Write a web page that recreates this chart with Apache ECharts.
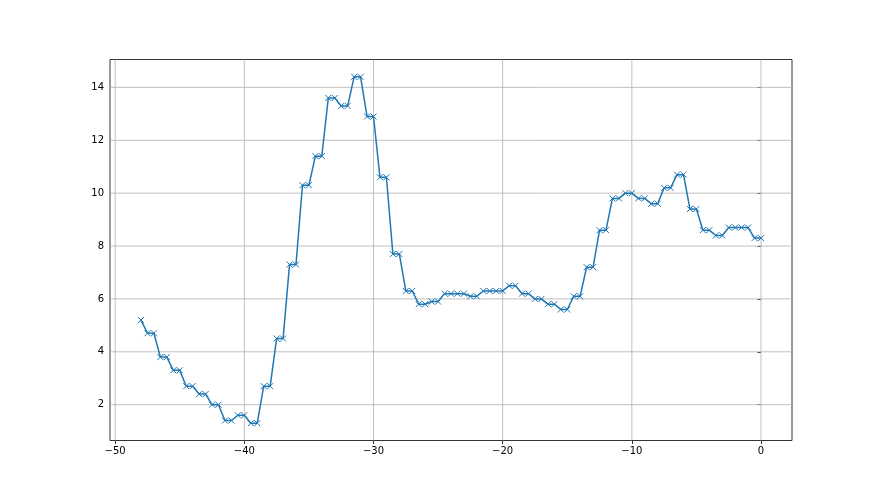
<!DOCTYPE html>
<html>
<head>
<meta charset="utf-8">
<style>
html,body{margin:0;padding:0;background:#fff;}
#chart{width:880px;height:495px;}
</style>
<script src="https://cdn.jsdelivr.net/npm/echarts@6/dist/echarts.min.js"></script>
</head>
<body>
<div id="chart"></div>
<script>
const xValues = [-48, -47.5, -47, -46.5, -46, -45.5, -45, -44.5, -44, -43.5, -43, -42.5, -42, -41.5, -41, -40.5, -40, -39.5, -39, -38.5, -38, -37.5, -37, -36.5, -36, -35.5, -35, -34.5, -34, -33.5, -33, -32.5, -32, -31.5, -31, -30.5, -30, -29.5, -29, -28.5, -28, -27.5, -27, -26.5, -26, -25.5, -25, -24.5, -24, -23.5, -23, -22.5, -22, -21.5, -21, -20.5, -20, -19.5, -19, -18.5, -18, -17.5, -17, -16.5, -16, -15.5, -15, -14.5, -14, -13.5, -13, -12.5, -12, -11.5, -11, -10.5, -10, -9.5, -9, -8.5, -8, -7.5, -7, -6.5, -6, -5.5, -5, -4.5, -4, -3.5, -3, -2.5, -2, -1.5, -1, -0.5, 0];
const yValues = [5.2, 4.7, 4.7, 3.8, 3.8, 3.3, 3.3, 2.7, 2.7, 2.4, 2.4, 2.0, 2.0, 1.4, 1.4, 1.6, 1.6, 1.3, 1.3, 2.7, 2.7, 4.5, 4.5, 7.3, 7.3, 10.3, 10.3, 11.4, 11.4, 13.6, 13.6, 13.3, 13.3, 14.4, 14.4, 12.9, 12.9, 10.6, 10.6, 7.7, 7.7, 6.3, 6.3, 5.8, 5.8, 5.9, 5.9, 6.2, 6.2, 6.2, 6.2, 6.1, 6.1, 6.3, 6.3, 6.3, 6.3, 6.5, 6.5, 6.2, 6.2, 6.0, 6.0, 5.8, 5.8, 5.6, 5.6, 6.1, 6.1, 7.2, 7.2, 8.6, 8.6, 9.8, 9.8, 10.0, 10.0, 9.8, 9.8, 9.6, 9.6, 10.2, 10.2, 10.7, 10.7, 9.4, 9.4, 8.6, 8.6, 8.4, 8.4, 8.7, 8.7, 8.7, 8.7, 8.3, 8.3];
const xTicks = [-50, -40, -30, -20, -10, 0];
const yTicks = [2, 4, 6, 8, 10, 12, 14];

const points = xValues.map((x, i) => [x, yValues[i]]);
const fmt = v => String(v).replace('-', '\u2212');
const yMin = 0.645, yMax = 15.055, xMin = -50.4, xMax = 2.4;
// grid lines drawn as line series through the axes' scales
const gridSeries = xTicks.map(v => ({
  type: 'line', data: [[v, yMin], [v, yMax]], symbol: 'none', silent: true, z: 1,
  lineStyle: {color: '#b0b0b0', width: 0.8}
})).concat(yTicks.map(v => ({
  type: 'line', data: [[xMin, v], [xMax, v]], symbol: 'none', silent: true, z: 1,
  lineStyle: {color: '#b0b0b0', width: 0.8}
})));

const chart = echarts.init(document.getElementById('chart'), null, {renderer: 'canvas'});
chart.setOption({
  animation: false,
  backgroundColor: '#ffffff',
  grid: {left: 110, right: 88, top: 59.5, bottom: 54.5, show: true, borderColor: '#000', borderWidth: 0.8, backgroundColor: 'transparent'},
  xAxis: {
    type: 'value', min: xMin, max: xMax,
    axisLine: {show: false},
    axisTick: {show: true, inside: false, length: 3.5, customValues: xTicks, lineStyle: {color: '#000', width: 0.8}},
    axisLabel: {customValues: xTicks, formatter: fmt, margin: 6, color: '#000', fontFamily: 'DejaVu Sans', fontSize: 10},
    splitLine: {show: false}
  },
  yAxis: {
    type: 'value', min: yMin, max: yMax,
    axisLine: {show: false},
    axisTick: {show: true, inside: false, length: 3.5, customValues: yTicks, lineStyle: {color: '#000', width: 0.8}},
    axisLabel: {customValues: yTicks, formatter: fmt, margin: 6, color: '#000', fontFamily: 'DejaVu Sans', fontSize: 10},
    splitLine: {show: false}
  },
  series: gridSeries.concat([{
    type: 'line',
    data: points,
    symbol: 'path://M0,0L10,10M10,0L0,10',
    symbolSize: 6,
    showAllSymbol: true,
    itemStyle: {color: 'rgba(0,0,0,0)', borderColor: '#1f77b4', borderWidth: 1},
    lineStyle: {color: '#1f77b4', width: 1.5},
    z: 3
  }])
});
</script>
</body>
</html>
